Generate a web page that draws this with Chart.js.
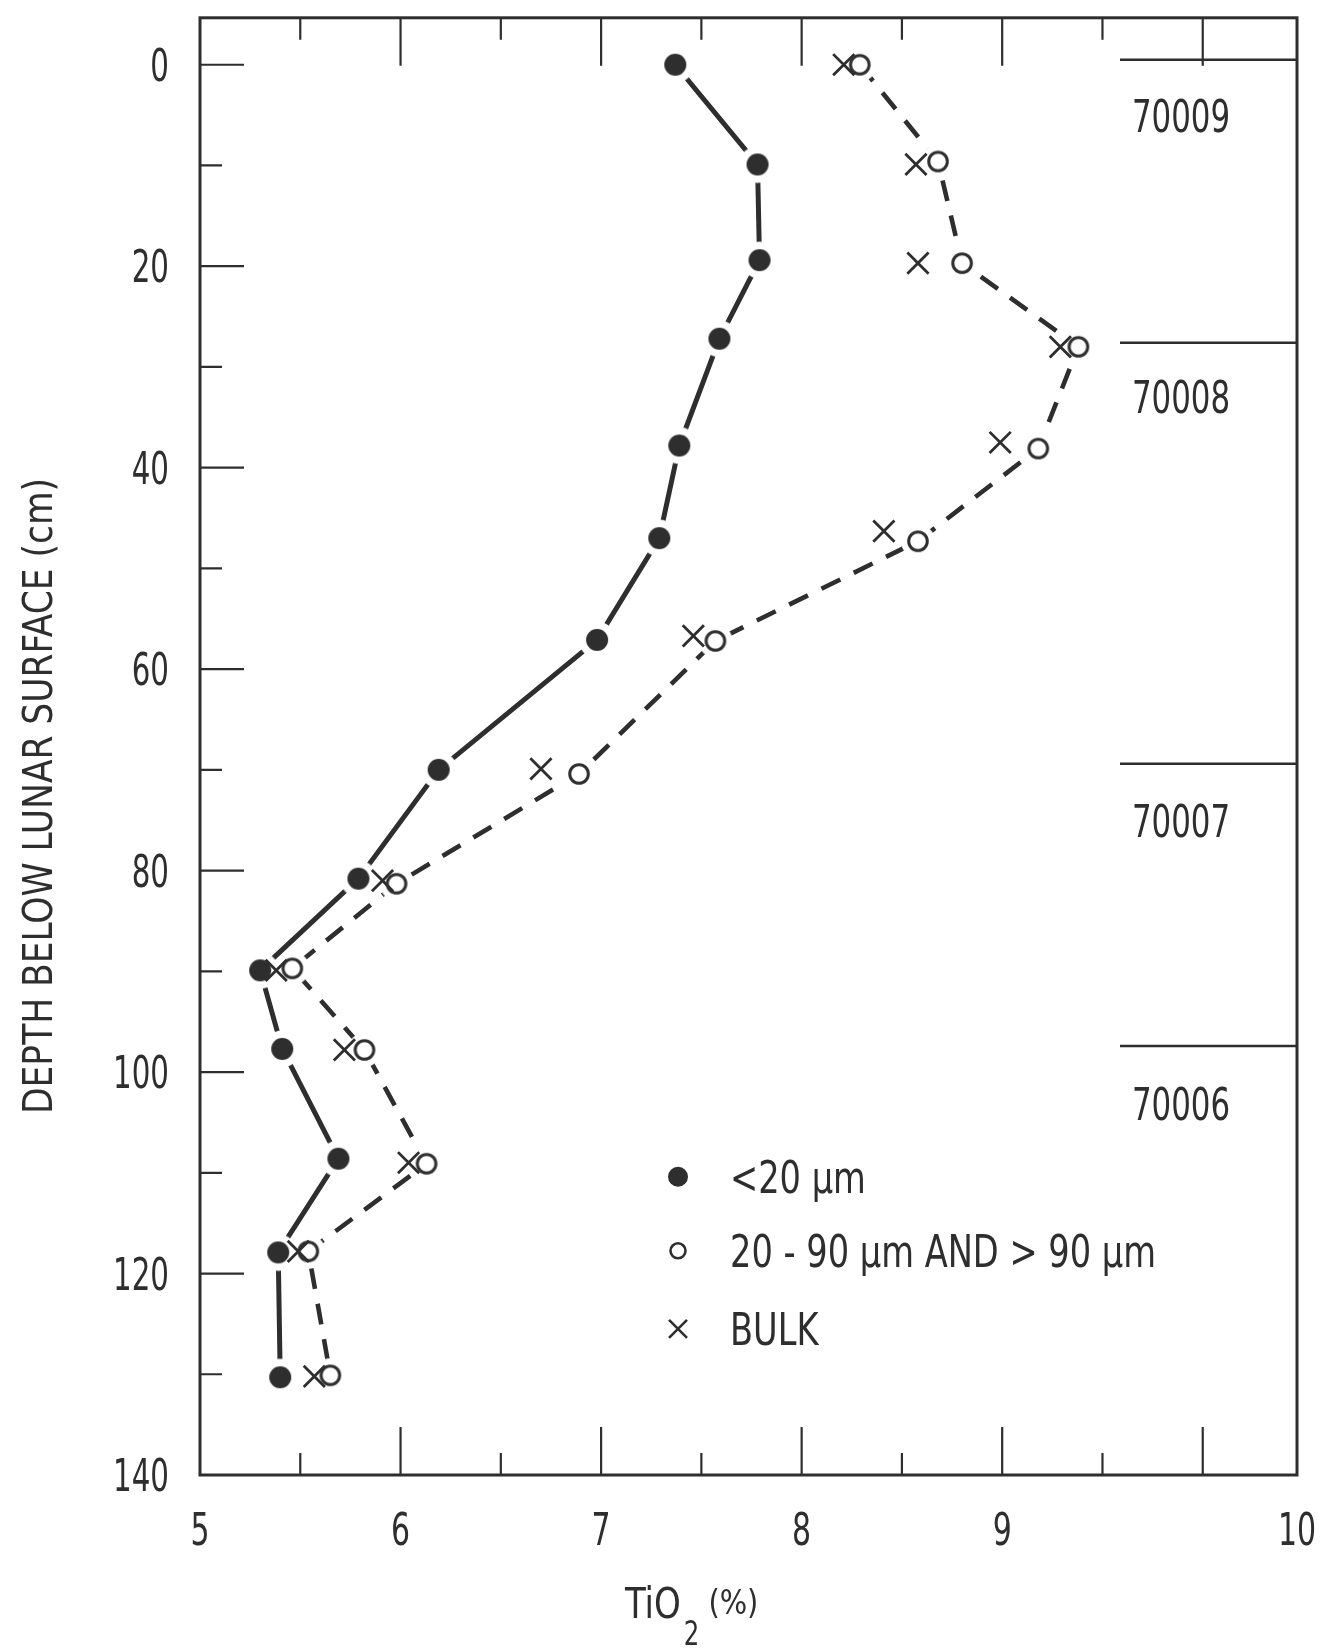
<!DOCTYPE html>
<html>
<head>
<meta charset="utf-8">
<script src="https://cdn.jsdelivr.net/npm/chart.js@4.4.1/dist/chart.umd.min.js"></script>
<style>
  html, body { margin: 0; padding: 0; background: #fff; }
  #wrap { width: 1325px; height: 1648px; }
</style>
</head>
<body>
<div id="wrap"><canvas id="myChart" width="1325" height="1648"></canvas></div>
<script>
// TiO2 (%) against depth below the lunar surface (cm)
var fineTi    = [7.37, 7.78, 7.79, 7.59, 7.39, 7.29, 6.98, 6.19, 5.79, 5.30, 5.41, 5.69, 5.39, 5.40];
var fineDepth = [0, 9.9, 19.4, 27.2, 37.8, 47.0, 57.1, 70.0, 80.8, 89.9, 97.7, 108.6, 117.9, 130.3];

var coarseTi    = [8.29, 8.68, 8.80, 9.38, 9.18, 8.58, 7.57, 6.89, 5.98, 5.46, 5.82, 6.13, 5.54, 5.65];
var coarseDepth = [0, 9.6, 19.7, 28.0, 38.1, 47.3, 57.2, 70.4, 81.3, 89.7, 97.8, 109.1, 117.8, 130.1];

var bulkTi    = [8.21, 8.57, 8.58, 9.29, 8.99, 8.41, 7.46, 6.70, 5.91, 5.38, 5.72, 6.04, 5.49, 5.57];
var bulkDepth = [0, 9.9, 19.7, 28.0, 37.5, 46.3, 56.7, 69.9, 81.0, 89.9, 97.8, 109.0, 117.8, 130.2];

// drive tube sections marked on the right side
var sections     = ['70009', '70008', '70007', '70006'];
var sectionTop   = [-0.5, 27.6, 69.4, 97.4];
var sectionLabel = [5.1, 33.0, 75.1, 103.2];

// axes
var X_MIN = 5, X_MAX = 10.47, Y_MIN = -4.66, Y_MAX = 140;
var xLabels  = ['5', '6', '7', '8', '9', '10'];
var xLabelAt = [5, 6, 7, 8, 9, X_MAX];   // the original prints "10" at the frame edge
var xMajor = [6, 7, 8, 9, 10];
var xMinor = [5.5, 6.5, 7.5, 8.5, 9.5];
var yLabels = [0, 20, 40, 60, 80, 100, 120, 140];
var yMinor  = [10, 30, 50, 70, 90, 110, 130];

var legendNames = ['<20 \u00b5m', '20 - 90 \u00b5m AND > 90 \u00b5m', 'BULK'];

var FONT = "'Liberation Sans Narrow', 'DejaVu Sans Condensed', sans-serif";
var ink = '#2e2e2e';

function pts(xs, ys) {
  return xs.map(function (v, i) { return { x: v, y: ys[i] }; });
}

// condensed lettering: squeeze horizontally (or fit to a width)
function say(ctx, s, x, y, size, align, squeeze, width) {
  ctx.save();
  ctx.font = size + 'px ' + FONT;
  ctx.textAlign = align;
  ctx.textBaseline = 'alphabetic';
  var k = width ? width / ctx.measureText(s).width : squeeze;
  ctx.translate(x, y);
  ctx.scale(k, 1);
  ctx.fillText(s, 0, 0);
  var w = ctx.measureText(s).width * k;
  ctx.restore();
  return w;
}

// markers with a white halo so the lines stop short of them, like the original
function makeMarker(size, paint) {
  var c = document.createElement('canvas');
  c.width = size; c.height = size;
  var g = c.getContext('2d');
  g.translate(size / 2, size / 2);
  paint(g);
  return c;
}
var dotMark = makeMarker(40, function (g) {
  g.fillStyle = '#fff'; g.beginPath(); g.arc(0, 0, 18.5, 0, Math.PI * 2); g.fill();
  g.fillStyle = ink; g.beginPath(); g.arc(0, 0, 11, 0, Math.PI * 2); g.fill();
});
var ringMark = makeMarker(36, function (g) {
  g.fillStyle = '#fff'; g.beginPath(); g.arc(0, 0, 17, 0, Math.PI * 2); g.fill();
  g.strokeStyle = ink; g.lineWidth = 3;
  g.beginPath(); g.arc(0, 0, 9.3, 0, Math.PI * 2); g.stroke();
});

var decor = {
  id: 'decor',
  afterDraw: function (chart) {
    var ctx = chart.ctx, a = chart.chartArea;
    var xs = chart.scales.x, ys = chart.scales.y;
    ctx.save();
    ctx.strokeStyle = ink;
    ctx.fillStyle = ink;

    // inward tick marks
    ctx.lineWidth = 2.2;
    ctx.beginPath();
    function xt(v, len) {
      var p = xs.getPixelForValue(v);
      ctx.moveTo(p, a.top); ctx.lineTo(p, a.top + len);
      ctx.moveTo(p, a.bottom); ctx.lineTo(p, a.bottom - len);
    }
    xMajor.forEach(function (v) { xt(v, 48); });
    xMinor.forEach(function (v) { xt(v, 22); });
    yLabels.forEach(function (v) {
      var p = ys.getPixelForValue(v);
      ctx.moveTo(a.left, p); ctx.lineTo(a.left + 44, p);
    });
    yMinor.forEach(function (v) {
      var p = ys.getPixelForValue(v);
      ctx.moveTo(a.left, p); ctx.lineTo(a.left + 22, p);
    });
    ctx.stroke();

    // frame
    ctx.lineWidth = 3;
    ctx.strokeRect(a.left, a.top, a.right - a.left, a.bottom - a.top);

    // tick labels
    xLabelAt.forEach(function (v, i) {
      say(ctx, xLabels[i], xs.getPixelForValue(v), a.bottom + 70, 45, 'center', 0.74);
    });
    yLabels.forEach(function (v) {
      say(ctx, String(v), a.left - 31, ys.getPixelForValue(v) + 16, 44, 'right', 0.74);
    });

    // core sections
    ctx.lineWidth = 2.5;
    ctx.beginPath();
    sectionTop.forEach(function (d) {
      var p = ys.getPixelForValue(d);
      ctx.moveTo(a.right - 177, p); ctx.lineTo(a.right, p);
    });
    ctx.stroke();
    sections.forEach(function (s, i) {
      say(ctx, s, a.right - 116, ys.getPixelForValue(sectionLabel[i]) + 16, 44, 'center', 0.78);
    });

    // legend
    var lx = a.left + 478, rows = [a.top + 1159, a.top + 1233, a.top + 1311];
    ctx.beginPath(); ctx.arc(lx, rows[0], 10, 0, Math.PI * 2); ctx.fill();
    ctx.lineWidth = 2.6;
    ctx.beginPath(); ctx.arc(lx, rows[1], 7.5, 0, Math.PI * 2); ctx.stroke();
    ctx.beginPath();
    ctx.moveTo(lx - 9, rows[2] - 9); ctx.lineTo(lx + 9, rows[2] + 9);
    ctx.moveTo(lx - 9, rows[2] + 9); ctx.lineTo(lx + 9, rows[2] - 9);
    ctx.stroke();
    legendNames.forEach(function (t, i) { say(ctx, t, lx + 52, rows[i] + 16, 44, 'left', 0.85); });

    // x title: TiO2 (%)
    var tx = 625;
    tx += say(ctx, 'TiO', tx, 1618, 42, 'left', 0.9) + 3;
    tx += say(ctx, '2', tx, 1645, 34, 'left', 0.8) + 9;
    say(ctx, '(%)', tx, 1614, 33, 'left', 0.82, 50);

    // y title
    ctx.translate(38, 796);
    ctx.rotate(-Math.PI / 2);
    say(ctx, 'DEPTH BELOW LUNAR SURFACE (cm)', 0, 14, 40, 'center', 1, 636);
    ctx.restore();
  }
};

var ctx = document.getElementById('myChart');
var myChart = new Chart(ctx, {
  type: 'scatter',
  data: {
    datasets: [
      {
        label: legendNames[0],
        data: pts(fineTi, fineDepth),
        showLine: true,
        borderColor: ink,
        borderWidth: 5,
        tension: 0,
        pointStyle: dotMark,
        pointRadius: 11,
        order: 3
      },
      {
        label: legendNames[1],
        data: pts(coarseTi, coarseDepth),
        showLine: true,
        borderColor: ink,
        borderWidth: 4.6,
        borderDash: [21, 15],
        tension: 0,
        pointStyle: ringMark,
        pointRadius: 10,
        order: 2
      },
      {
        label: legendNames[2],
        data: pts(bulkTi, bulkDepth),
        showLine: false,
        pointStyle: 'crossRot',
        pointRadius: 15,
        pointBorderWidth: 2.8,
        pointBorderColor: ink,
        pointBackgroundColor: ink,
        order: 1
      }
    ]
  },
  options: {
    responsive: false,
    devicePixelRatio: 1,
    animation: false,
    events: [],
    layout: { padding: { top: 15, right: 28, left: 0, bottom: 0 } },
    plugins: { legend: { display: false }, tooltip: { enabled: false } },
    scales: {
      x: {
        type: 'linear',
        position: 'bottom',
        min: X_MIN,
        max: X_MAX,
        grid: { display: false, drawTicks: false },
        border: { display: false },
        ticks: { display: false },
        afterFit: function (s) { s.height = 173; }
      },
      y: {
        type: 'linear',
        reverse: true,
        min: Y_MIN,
        max: Y_MAX,
        grid: { display: false, drawTicks: false },
        border: { display: false },
        ticks: { display: false },
        afterFit: function (s) { s.width = 200; }
      }
    }
  },
  plugins: [decor]
});
</script>
</body>
</html>
